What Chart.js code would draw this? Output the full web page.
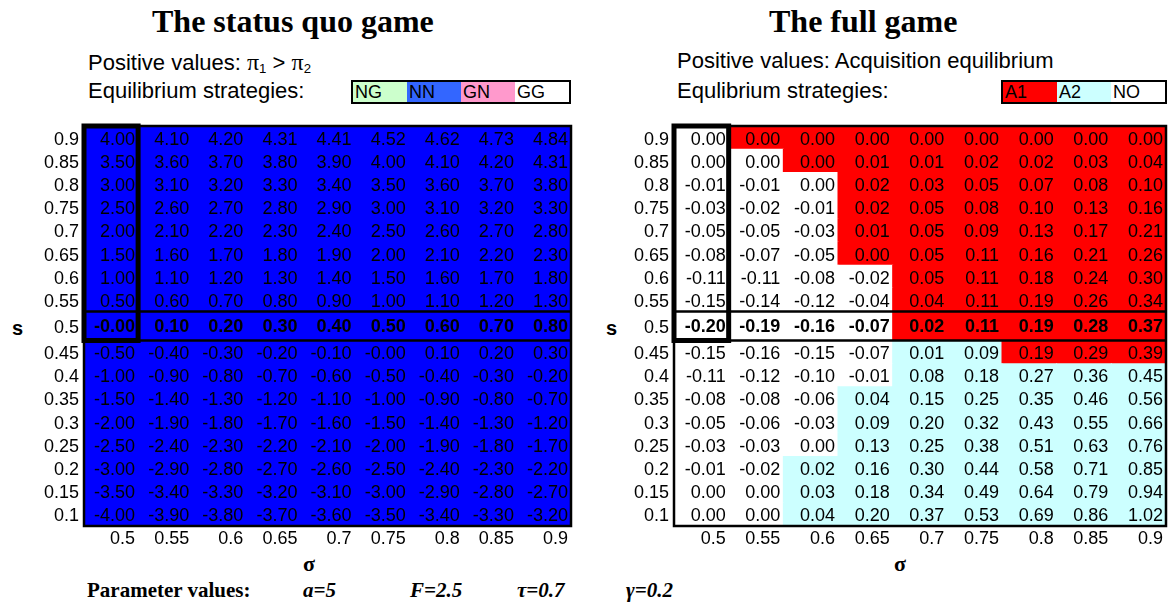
<!DOCTYPE html>
<html><head><meta charset="utf-8">
<script src="https://cdn.jsdelivr.net/npm/chart.js@4/dist/chart.umd.min.js"></script>
<style>
html,body{margin:0;padding:0;background:#fff;width:1168px;height:604px;overflow:hidden;position:relative;font-family:"Liberation Sans",Arial,sans-serif;color:#000;}
.t{position:absolute;white-space:nowrap;line-height:1;}
.title{font-family:"Liberation Serif",serif;font-weight:bold;font-size:32px;}
.sub{font-size:22px;}
.leg{position:absolute;display:flex;border:2.5px solid #000;height:20px;}
.leg span{display:block;width:54px;height:20px;font-size:18px;line-height:21px;padding-left:2px;box-sizing:border-box;}
.par{position:absolute;white-space:nowrap;line-height:1;font-family:"Liberation Serif",serif;font-weight:bold;font-size:21px;}
.par i{font-style:italic;}
sub{font-size:0.6em;vertical-align:-0.25em;}
canvas{position:absolute;}
</style>
</head><body>
<div class="t title" style="left:152px;top:5px;">The status quo game</div>
<div class="t title" style="left:769px;top:5px;">The full game</div>
<div class="t sub" style="left:88px;top:50px;">Positive values: <span style="font-family:'Liberation Serif';font-size:24px;">π</span><sub>1</sub> &gt; <span style="font-family:'Liberation Serif';font-size:24px;">π</span><sub>2</sub></div>
<div class="t sub" style="left:677px;top:50px;">Positive values: Acquisition equilibrium</div>
<div class="t sub" style="left:88px;top:80px;">Equilibrium strategies:</div>
<div class="t sub" style="left:677px;top:80px;">Equlibrium strategies:</div>
<div class="leg" id="legL" style="left:351px;top:80px;"></div>
<div class="leg" id="legR" style="left:1001px;top:80px;"></div>
<div class="t" style="left:12px;top:318px;font-weight:bold;font-size:20px;">s</div>
<div class="t" style="left:606px;top:318px;font-weight:bold;font-size:20px;">s</div>
<div class="t" style="left:303px;top:553px;font-family:'Liberation Serif';font-weight:bold;font-size:22px;">σ</div>
<div class="t" style="left:894px;top:553px;font-family:'Liberation Serif';font-weight:bold;font-size:22px;">σ</div>
<div class="par" style="left:87px;top:580px;">Parameter values:</div>
<div class="par" style="left:303px;top:580px;"><i>a=5</i></div>
<div class="par" style="left:410px;top:580px;"><i>F=2.5</i></div>
<div class="par" style="left:517px;top:580px;"><i>τ=0.7</i></div>
<div class="par" style="left:626px;top:580px;"><i>γ=0.2</i></div>
<canvas id="cL" width="590" height="446" style="left:0;top:110px;"></canvas>
<canvas id="cR" width="578" height="446" style="left:590px;top:110px;"></canvas>
<script>
const sigmaLabels = ['0.5','0.55','0.6','0.65','0.7','0.75','0.8','0.85','0.9'];
const sLabels = ['0.9','0.85','0.8','0.75','0.7','0.65','0.6','0.55','0.5','0.45','0.4','0.35','0.3','0.25','0.2','0.15','0.1'];

const quoValues = [
  [4.00, 4.10, 4.20, 4.31, 4.41, 4.52, 4.62, 4.73, 4.84],
  [3.50, 3.60, 3.70, 3.80, 3.90, 4.00, 4.10, 4.20, 4.31],
  [3.00, 3.10, 3.20, 3.30, 3.40, 3.50, 3.60, 3.70, 3.80],
  [2.50, 2.60, 2.70, 2.80, 2.90, 3.00, 3.10, 3.20, 3.30],
  [2.00, 2.10, 2.20, 2.30, 2.40, 2.50, 2.60, 2.70, 2.80],
  [1.50, 1.60, 1.70, 1.80, 1.90, 2.00, 2.10, 2.20, 2.30],
  [1.00, 1.10, 1.20, 1.30, 1.40, 1.50, 1.60, 1.70, 1.80],
  [0.50, 0.60, 0.70, 0.80, 0.90, 1.00, 1.10, 1.20, 1.30],
  [-0.00, 0.10, 0.20, 0.30, 0.40, 0.50, 0.60, 0.70, 0.80],
  [-0.50, -0.40, -0.30, -0.20, -0.10, -0.00, 0.10, 0.20, 0.30],
  [-1.00, -0.90, -0.80, -0.70, -0.60, -0.50, -0.40, -0.30, -0.20],
  [-1.50, -1.40, -1.30, -1.20, -1.10, -1.00, -0.90, -0.80, -0.70],
  [-2.00, -1.90, -1.80, -1.70, -1.60, -1.50, -1.40, -1.30, -1.20],
  [-2.50, -2.40, -2.30, -2.20, -2.10, -2.00, -1.90, -1.80, -1.70],
  [-3.00, -2.90, -2.80, -2.70, -2.60, -2.50, -2.40, -2.30, -2.20],
  [-3.50, -3.40, -3.30, -3.20, -3.10, -3.00, -2.90, -2.80, -2.70],
  [-4.00, -3.90, -3.80, -3.70, -3.60, -3.50, -3.40, -3.30, -3.20]
];
const quoStrategy = [
  ['NN','NN','NN','NN','NN','NN','NN','NN','NN'],
  ['NN','NN','NN','NN','NN','NN','NN','NN','NN'],
  ['NN','NN','NN','NN','NN','NN','NN','NN','NN'],
  ['NN','NN','NN','NN','NN','NN','NN','NN','NN'],
  ['NN','NN','NN','NN','NN','NN','NN','NN','NN'],
  ['NN','NN','NN','NN','NN','NN','NN','NN','NN'],
  ['NN','NN','NN','NN','NN','NN','NN','NN','NN'],
  ['NN','NN','NN','NN','NN','NN','NN','NN','NN'],
  ['NN','NN','NN','NN','NN','NN','NN','NN','NN'],
  ['NN','NN','NN','NN','NN','NN','NN','NN','NN'],
  ['NN','NN','NN','NN','NN','NN','NN','NN','NN'],
  ['NN','NN','NN','NN','NN','NN','NN','NN','NN'],
  ['NN','NN','NN','NN','NN','NN','NN','NN','NN'],
  ['NN','NN','NN','NN','NN','NN','NN','NN','NN'],
  ['NN','NN','NN','NN','NN','NN','NN','NN','NN'],
  ['NN','NN','NN','NN','NN','NN','NN','NN','NN'],
  ['NN','NN','NN','NN','NN','NN','NN','NN','NN']
];

const fullValues = [
  [0.00, 0.00, 0.00, 0.00, 0.00, 0.00, 0.00, 0.00, 0.00],
  [0.00, 0.00, 0.00, 0.01, 0.01, 0.02, 0.02, 0.03, 0.04],
  [-0.01, -0.01, 0.00, 0.02, 0.03, 0.05, 0.07, 0.08, 0.10],
  [-0.03, -0.02, -0.01, 0.02, 0.05, 0.08, 0.10, 0.13, 0.16],
  [-0.05, -0.05, -0.03, 0.01, 0.05, 0.09, 0.13, 0.17, 0.21],
  [-0.08, -0.07, -0.05, 0.00, 0.05, 0.11, 0.16, 0.21, 0.26],
  [-0.11, -0.11, -0.08, -0.02, 0.05, 0.11, 0.18, 0.24, 0.30],
  [-0.15, -0.14, -0.12, -0.04, 0.04, 0.11, 0.19, 0.26, 0.34],
  [-0.20, -0.19, -0.16, -0.07, 0.02, 0.11, 0.19, 0.28, 0.37],
  [-0.15, -0.16, -0.15, -0.07, 0.01, 0.09, 0.19, 0.29, 0.39],
  [-0.11, -0.12, -0.10, -0.01, 0.08, 0.18, 0.27, 0.36, 0.45],
  [-0.08, -0.08, -0.06, 0.04, 0.15, 0.25, 0.35, 0.46, 0.56],
  [-0.05, -0.06, -0.03, 0.09, 0.20, 0.32, 0.43, 0.55, 0.66],
  [-0.03, -0.03, 0.00, 0.13, 0.25, 0.38, 0.51, 0.63, 0.76],
  [-0.01, -0.02, 0.02, 0.16, 0.30, 0.44, 0.58, 0.71, 0.85],
  [0.00, 0.00, 0.03, 0.18, 0.34, 0.49, 0.64, 0.79, 0.94],
  [0.00, 0.00, 0.04, 0.20, 0.37, 0.53, 0.69, 0.86, 1.02]
];
const fullStrategy = [
  ['NO','A1','A1','A1','A1','A1','A1','A1','A1'],
  ['NO','NO','A1','A1','A1','A1','A1','A1','A1'],
  ['NO','NO','NO','A1','A1','A1','A1','A1','A1'],
  ['NO','NO','NO','A1','A1','A1','A1','A1','A1'],
  ['NO','NO','NO','A1','A1','A1','A1','A1','A1'],
  ['NO','NO','NO','A1','A1','A1','A1','A1','A1'],
  ['NO','NO','NO','NO','A1','A1','A1','A1','A1'],
  ['NO','NO','NO','NO','A1','A1','A1','A1','A1'],
  ['NO','NO','NO','NO','A1','A1','A1','A1','A1'],
  ['NO','NO','NO','NO','A2','A2','A1','A1','A1'],
  ['NO','NO','NO','NO','A2','A2','A2','A2','A2'],
  ['NO','NO','NO','A2','A2','A2','A2','A2','A2'],
  ['NO','NO','NO','A2','A2','A2','A2','A2','A2'],
  ['NO','NO','NO','A2','A2','A2','A2','A2','A2'],
  ['NO','NO','A2','A2','A2','A2','A2','A2','A2'],
  ['NO','NO','A2','A2','A2','A2','A2','A2','A2'],
  ['NO','NO','A2','A2','A2','A2','A2','A2','A2']
];

const quoLegend = ['NG','NN','GN','GG'];
const fullLegend = ['A1','A2','NO'];

// styles (colours per strategy)
const cellColor = {NN:'#0000FF', A1:'#FF0000', A2:'#CCFFFF', NO:'#FFFFFF'};
const legendColor = {NG:'#CCFFCC', NN:'#3366FF', GN:'#FF99CC', GG:'#FFFFFF', A1:'#FF0000', A2:'#CCFFFF', NO:'#FFFFFF'};

function buildLegend(id, items){
  const el = document.getElementById(id);
  items.forEach(k=>{
    const s = document.createElement('span');
    s.textContent = k;
    s.style.background = legendColor[k];
    el.appendChild(s);
  });
}
buildLegend('legL', quoLegend);
buildLegend('legR', fullLegend);

function fmt(v){
  const t = Math.abs(v).toFixed(2);
  return (v < 0 || Object.is(v, -0)) ? '-' + t : t;
}

const boldRow = sLabels.indexOf('0.5');
// layout: the highlighted row is drawn a little taller
const boldExtra = 0.25;
function rowStart(r){ return r + (r > boldRow ? boldExtra : 0); }
function rowEnd(r){ return rowStart(r) + 1 + (r === boldRow ? boldExtra : 0); }
const yMax = sLabels.length + boldExtra;
const FONT = '"Liberation Sans", Arial, sans-serif';

function cellPlugin(values){
  return {
    id: 'cellText',
    afterDatasetsDraw(chart){
      const {ctx, chartArea: a, scales: {x, y}} = chart;
      ctx.save();
      ctx.textAlign = 'right';
      ctx.textBaseline = 'middle';
      ctx.fillStyle = '#000';
      values.forEach((row, r) => {
        ctx.font = (r === boldRow ? 'bold ' : '') + '18px ' + FONT;
        const py = y.getPixelForValue((rowStart(r) + rowEnd(r)) / 2) + (r === boldRow ? 1 : 2);
        row.forEach((v, c) => {
          ctx.fillText(fmt(v), x.getPixelForValue(c + 1) - 3, py);
        });
      });
      ctx.strokeStyle = '#000';
      ctx.lineWidth = 2.5;
      ctx.strokeRect(a.left, a.top, a.right - a.left, a.bottom - a.top);
      [rowStart(boldRow), rowEnd(boldRow)].forEach(v => {
        const py = y.getPixelForValue(v);
        ctx.beginPath(); ctx.moveTo(a.left, py); ctx.lineTo(a.right, py); ctx.stroke();
      });
      ctx.lineWidth = 5;
      const x0 = x.getPixelForValue(0), x1 = x.getPixelForValue(1);
      const y0 = y.getPixelForValue(0), y1 = y.getPixelForValue(rowEnd(boldRow));
      ctx.strokeRect(x0, y0, x1 - x0, y1 - y0);
      ctx.restore();
    }
  };
}

function makeChart(id, values, strategies, padRight){
  const points = [], colors = [];
  values.forEach((row, r) => row.forEach((v, c) => {
    points.push({x: c + 0.5, y: [rowStart(r), rowEnd(r)]});
    colors.push(cellColor[strategies[r][c]]);
  }));
  return new Chart(document.getElementById(id), {
    type: 'bar',
    data: { datasets: [{ data: points, backgroundColor: colors, borderWidth: 0, barPercentage: 1, categoryPercentage: 1, inflateAmount: 0.5 }] },
    options: {
      responsive: false, animation: false,
      layout: { padding: { top: 16, right: padRight, left: 0, bottom: 0 } },
      plugins: { legend: { display: false }, tooltip: { enabled: false } },
      scales: {
        x: {
          type: 'linear', min: 0, max: sigmaLabels.length, offset: false,
          grid: { display: false, drawTicks: false }, border: { display: false },
          afterBuildTicks: s => { s.ticks = sigmaLabels.map((_, i) => ({ value: i + 1 })); },
          afterFit: s => { s.height = 30; },
          ticks: { align: 'end', padding: 2, labelOffset: -3, maxRotation: 0, autoSkip: false, color: '#000',
                   font: { family: FONT, size: 18 },
                   callback: (v, i) => sigmaLabels[i] }
        },
        y: {
          type: 'linear', min: 0, max: yMax, reverse: true,
          grid: { display: false, drawTicks: false }, border: { display: false },
          afterBuildTicks: s => { s.ticks = sLabels.map((_, r) => ({ value: (rowStart(r) + rowEnd(r)) / 2 })); },
          afterFit: s => { s.width = 84; },
          ticks: { padding: 5, labelOffset: 2, autoSkip: false, color: '#000',
                   font: { family: FONT, size: 18 },
                   callback: (v, i) => sLabels[i] }
        }
      }
    },
    plugins: [cellPlugin(values)]
  });
}

makeChart('cL', quoValues, quoStrategy, 19);
makeChart('cR', fullValues, fullStrategy, 2);
</script>
</body></html>
